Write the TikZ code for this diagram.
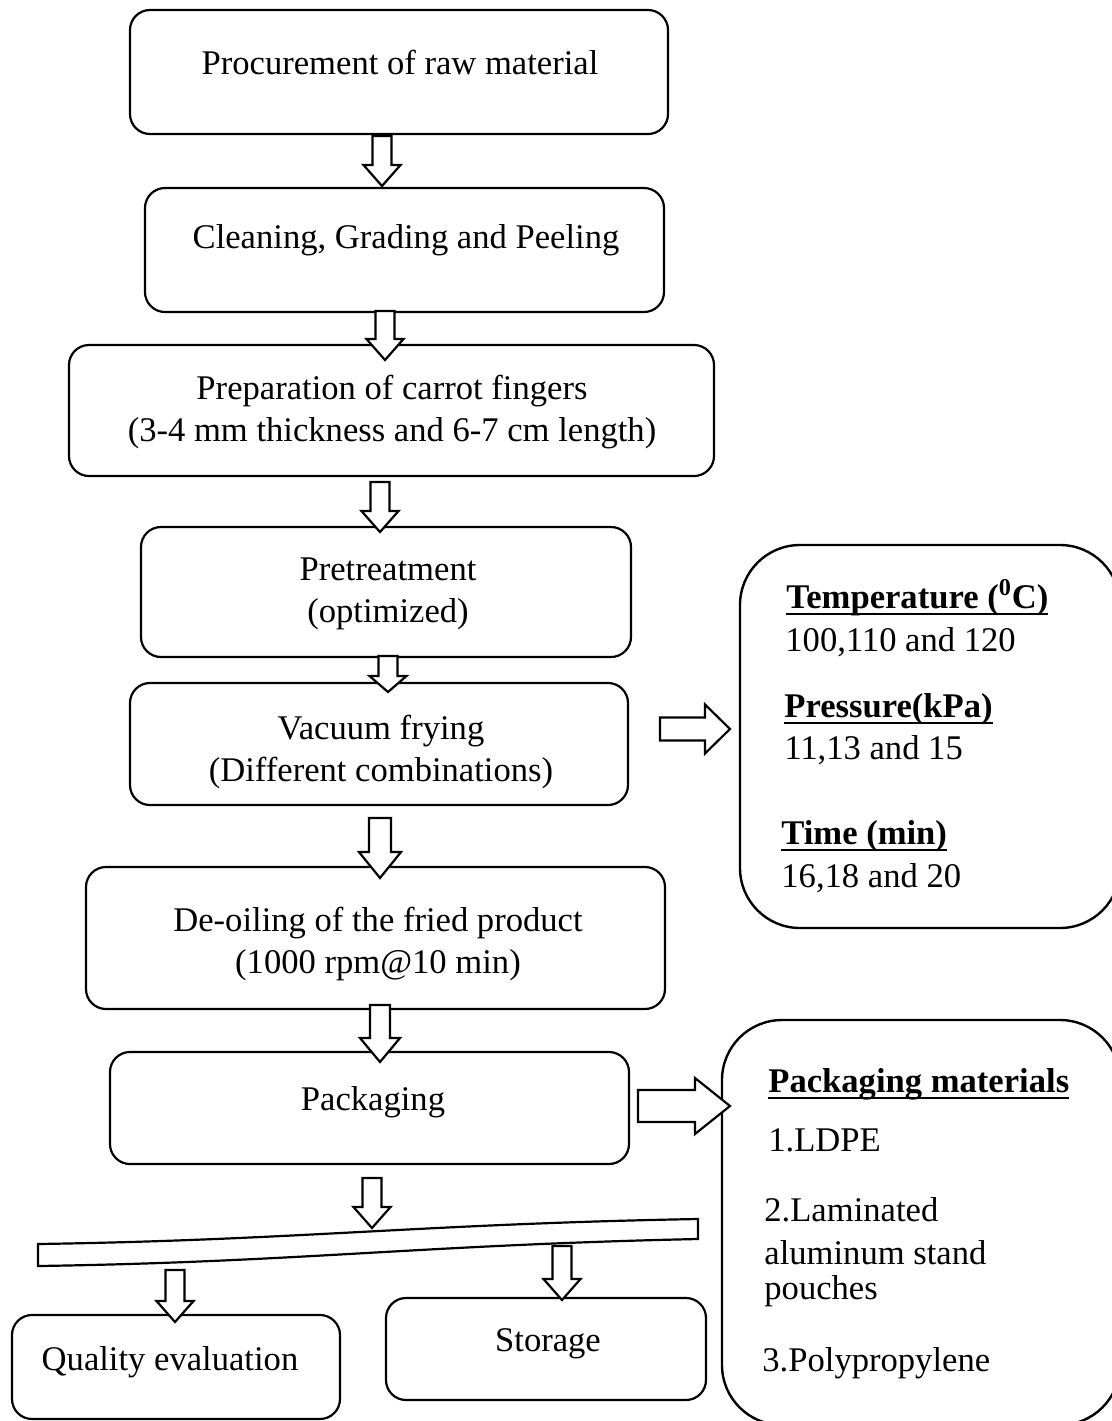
\documentclass[tikz,border=0pt]{standalone}
\usepackage{fontspec}
\setmainfont{Liberation Serif}
\usetikzlibrary{calc}
\newcommand\fs{\fontsize{17.3}{21}\selectfont}
\newcommand\ulbold[1]{\setbox0\hbox{\textbf{#1}}\rlap{\rule[-3.6pt]{\wd0}{1.2pt}}\box0}
% vertical hollow block arrow: name, x, ytop, ytip, shaft half, head half, head length
\newcommand\varr[7]{\coordinate (#1) at (#2,#3);
  \draw[blk] (#2-#5,#3) -- (#2+#5,#3) -- (#2+#5,#4-#7) -- (#2+#6,#4-#7) -- (#2,#4)
     -- (#2-#6,#4-#7) -- (#2-#5,#4-#7) -- cycle;}
% horizontal hollow block arrow: name, y, xtail, xtip, shaft half, head half, head length
\newcommand\harr[7]{\coordinate (#1) at (#3,#2);
  \draw[blk] (#3,#2-#5) -- (#4-#7,#2-#5) -- (#4-#7,#2-#6) -- (#4,#2) -- (#4-#7,#2+#6)
     -- (#4-#7,#2+#5) -- (#3,#2+#5) -- cycle;}
\begin{document}
\begin{tikzpicture}[x=0.5pt,y=-0.5pt,
  box/.style={draw, line width=1.1pt, rounded corners=10pt, inner sep=0pt},
  bigbox/.style={draw, line width=1.2pt, rounded corners=30pt, inner sep=0pt},
  txt/.style={font=\fs, align=center, inner sep=0pt},
  rtxt/.style={font=\fs, anchor=base west, inner sep=0pt},
  blk/.style={draw, fill=white, line width=1.1pt, line join=miter}]
\useasboundingbox (0,0) rectangle (1112,1421);

% main boxes
\node[box, minimum width=269pt, minimum height=62pt] (b1) at (399,72) {};
\node[box, minimum width=259.5pt, minimum height=62pt] (b2) at (404.5,250) {};
\node[box, minimum width=322.5pt, minimum height=65.5pt] (b3) at (391.5,410.5) {};
\node[box, minimum width=245pt, minimum height=65pt] (b4) at (386,592) {};
\node[box, minimum width=249pt, minimum height=61pt] (b5) at (379,744) {};
\node[box, minimum width=289.5pt, minimum height=71pt] (b6) at (375.5,938) {};
\node[box, minimum width=259.5pt, minimum height=56pt] (b7) at (369.5,1108) {};
\node[box, minimum width=164pt, minimum height=52pt] (bq) at (176,1367) {};
\node[box, minimum width=160pt, minimum height=51pt] (bs) at (546,1349) {};
\node[bigbox, minimum width=190pt, minimum height=191.5pt] (r1) at (930,736.5) {};
\node[bigbox, minimum width=199pt, minimum height=202.5pt] (r2) at (921,1222.5) {};

% texts
\node[txt] (t1) at (400,62) {Procurement of raw material};
\node[txt] (t2) at (406,240) {Cleaning, Grading and Peeling};
\node[txt] (t3) at (392,412) {Preparation of carrot fingers\\(3-4 mm thickness and 6-7 cm length)};
\node[txt] (t4) at (388,594) {Pretreatment\\(optimized)};
\node[txt] (t5) at (381,752) {Vacuum frying\\(Different combinations)};
\node[txt] (t6) at (378,944) {De-oiling of the fried product\\(1000 rpm@10 min)};
\node[txt] (t7) at (373,1102) {Packaging};
\node[txt] (tq) at (170,1362) {Quality evaluation};
\node[txt] (ts) at (548,1344) {Storage};

% right box 1 texts
\node[rtxt] (p1) at (786,608) {\ulbold{Temperature (\textsuperscript{0}C)}};
\node[rtxt] (p2) at (785,651) {100,110 and 120};
\node[rtxt] (p3) at (784,717) {\ulbold{Pressure(kPa)}};
\node[rtxt] (p4) at (784,759) {11,13 and 15};
\node[rtxt] (p5) at (781,844) {\ulbold{Time (min)}};
\node[rtxt] (p6) at (781,887) {16,18 and 20};

% right box 2 texts
\node[rtxt] (m1) at (768,1092) {\ulbold{Packaging materials}};
\node[rtxt] (m2) at (768,1151) {1.LDPE};
\node[rtxt] (m3) at (764,1221) {2.Laminated};
\node[rtxt] (m4) at (764,1264) {aluminum stand};
\node[rtxt] (m5) at (764,1299) {pouches};
\node[rtxt] (m6) at (762,1371) {3.Polypropylene};

% splitting bar
\coordinate (barL) at (38,1255);
\coordinate (barR) at (698,1229);
\draw[line width=1.1pt, fill=white] (38,1244) .. controls (300,1240) and (420,1224) .. (698,1219)
  -- (698,1239) .. controls (420,1245) and (300,1262) .. (38,1266) -- cycle;

% vertical arrows
\varr{a1}{382}{136}{186}{9.5}{18.5}{21}
\varr{a2}{385}{311}{360}{9.5}{18.5}{21}
\varr{a3}{380}{482}{532}{9.5}{18.5}{21}
\varr{a4}{388}{656}{692}{9.5}{18.5}{16}
\varr{a5}{380}{818}{878}{11}{21}{26}
\varr{a6}{380}{1005}{1062}{10}{20}{24}
\varr{a7}{372}{1178}{1228}{9.5}{18.5}{21}
\varr{a8}{175}{1270}{1322}{9.5}{18.5}{21}
\varr{a9}{562}{1246}{1300}{9.5}{18.5}{21}

% horizontal arrows
\harr{h1}{729}{660}{730}{11.5}{24.5}{25}
\harr{h2}{1106}{638}{730}{16}{28}{35}
\end{tikzpicture}
\end{document}
